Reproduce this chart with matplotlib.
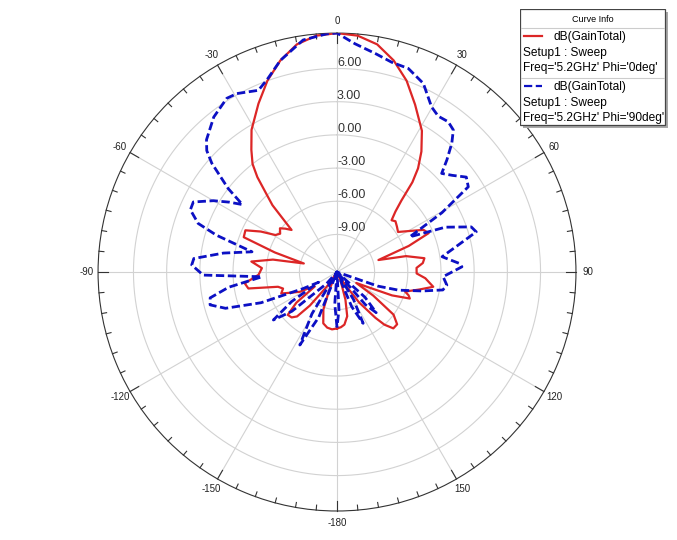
import numpy as np
import matplotlib
matplotlib.use("Agg")
import matplotlib.pyplot as plt
from matplotlib.patches import Rectangle

plt.rcParams["font.family"] = ["Liberation Sans", "DejaVu Sans"]

# ---------------------------------------------------------------------------
# data (theta in deg, gain in dB)
# ---------------------------------------------------------------------------
red_label = ["dB(GainTotal)", "Setup1 : Sweep", "Freq='5.2GHz' Phi='0deg'"]
red_theta = [-180, -175, -170, -165, -160, -157, -153, -150, -145, -141, -138,
             -135, -131, -127, -123, -120, -118, -114, -111, -107, -104,
             -100.5, -97, -92, -87, -83, -79, -75.5, -72.5, -69.5, -65.5,
             -62, -59, -56, -52.5, -50, -47.2, -44, -42, -40, -38, -35,
             -31, -25, -20, -15, -10, -5, 0, 5, 10, 15, 20, 25, 31, 35,
             38, 40, 42, 44, 46.5, 49, 52.8, 56.7, 60, 64, 67, 70, 73.8,
             77, 81, 84, 87, 91, 94, 98.7, 102, 106, 108, 110, 113, 116,
             119.5, 123, 127, 131, 135, 138, 140, 144, 148, 153, 158, 163,
             167, 172, 176, 180]
red_db = [-7.3, -7.2, -7.3, -7.6, -8.8, -10.5, -11.8, -12.2, -10.8, -8.5, -7.0,
          -6.6, -6.5, -7.8, -10.0, -9.6, -8.6, -7.8, -7.0, -7.3, -6.9,
          -4.25, -4.0, -5.3, -5.6, -4.6, -6.5, -9.3, -6.5, -3.4, -3.3,
          -4.6, -5.9, -6.2, -5.9, -6.3, -6.8, -4.0, -2.8, -1.2, 0.0, 1.1,
          2.6, 4.4, 6.0, 7.4, 8.5, 9.05, 9.2, 9.05, 8.5, 7.4, 6.0, 4.3, 2.5, 0.9,
          -0.5, -1.8, -3.7, -4.8, -5.6, -5.4, -5.6, -5.8, -5.0, -3.7, -3.4, -5.5, -8.5,
          -6.0, -4.4, -4.6, -5.2, -5.2, -4.4, -3.6, -4.8, -6.0, -5.6, -5.4, -7.0, -9.3,
          -10.4, -8.5, -6.0, -5.2, -5.2, -6.0, -7.0, -9.0, -11.2, -12.3, -11.5, -9.8,
          -8.3, -7.6, -7.4, -7.3]

blue_label = ["dB(GainTotal)", "Setup1 : Sweep", "Freq='5.2GHz' Phi='90deg'"]
blue_theta = [-180, -176, -172, -165, -158, -153, -149, -144, -138, -131, -127,
              -123, -119, -116, -112, -108, -104.5, -101.5, -98, -93.6, -91.3,
              -87.2, -84.6, -80.5, -76.6, -73, -70.7, -67, -64, -60, -57, -54.5,
              -52.5, -49, -47, -44.6, -38.5, -32.4, -29.3, -23.4, -20, -15, -8.3,
              -2.5, 0, 4.5, 10, 14.6, 19.3, 24.6, 29.8, 33, 36.5, 39.3, 41.7,
              44.4, 46.7, 50, 53.7, 57, 60.5, 64.2, 67.5, 71.4, 73.9, 77.5, 81.7,
              86, 87.6, 92.5, 96.8, 99.6, 102.5, 106.4, 109, 113, 128, 132, 136,
              139, 144, 149, 153, 157, 162, 172, 177, 180]
blue_db = [-7.4, -9.5, -12.4, -12.4, -8.0, -5.0, -8.0, -12.4, -11.0, -7.0, -5.2,
           -7.5, -10.5, -9.0, -5.0, -1.8, -0.55, -0.7, -2.5, -5.6, -0.3,
           0.75, 0.6, -2.0, -4.5, -1.0, 0.9, 2.0, 2.05, 0.5, -0.8, -1.9,
           0.0, 2.6, 3.7, 4.4, 5.5, 6.2, 6.1, 5.5, 6.1, 7.4, 8.8,
           9.15, 9.2, 8.3, 7.65, 7.2, 7.1, 6.35, 4.8, 4.4, 4.5, 4.2, 3.2,
           1.8, 0.6, 1.2, 2.1, 1.75, -1.5, -5.1, -1.8, 0.4, 0.7, -1.2, -2.8,
           -1.3, -1.1, -2.8, -2.4, -2.7, -4.5, -6.6, -8.5, -12.4, -12.4, -9.0, -7.3,
           -8.5, -12.4, -9.5, -7.2, -9.0, -12.4, -12.4, -9.0, -7.4]

ring_values = [-9, -6, -3, 0, 3, 6]
angle_ticks = [0, 30, 60, 90, 120, 150, 180, -150, -120, -90, -60, -30]
angle_labels = ["0", "30", "60", "90", "120", "150", "-180", "-150", "-120",
                "-90", "-60", "-30"]

RMIN, RMAX = -12.4, 9.2
RED = "#dc2626"
BLUE = "#0c10c4"
GRID = "#d2d2d2"

# ---------------------------------------------------------------------------
# plot
# ---------------------------------------------------------------------------
fig = plt.figure(figsize=(6.77, 5.40), dpi=100)
ax = fig.add_axes([0.1448, 0.0537, 0.706, 0.885], projection="polar")
ax.set_theta_zero_location("N")
ax.set_theta_direction(-1)
ax.set_ylim(RMIN, RMAX)
ax.grid(False)
ax.set_xticks([])
ax.set_yticks([])
ax.spines["polar"].set_color("#333333")
ax.spines["polar"].set_linewidth(0.8)

# rings and spokes
full = np.linspace(0, 2 * np.pi, 721)
for rv in ring_values:
    ax.plot(full, np.full_like(full, rv), color=GRID, lw=0.8, zorder=1)
for a in range(0, 360, 30):
    ax.plot([np.deg2rad(a)] * 2, [RMIN, RMAX], color=GRID, lw=0.8, zorder=1)

# tick marks on the outer circle (every 5 deg, longer every 30 deg)
for a in range(0, 360, 5):
    d = 0.9 if a % 30 == 0 else 0.45
    ax.plot([np.deg2rad(a)] * 2, [RMAX - d, RMAX], color="#333333", lw=0.8,
            zorder=2, clip_on=False)

for a, lab in zip(angle_ticks, angle_labels):
    ax.text(np.deg2rad(a), RMAX + 1.05, lab, ha="center", va="center",
            fontsize=7, color="#222222")
for rv in ring_values:
    ax.text(0, rv, f"{rv:.2f}", ha="left", va="bottom", fontsize=9,
            color="#333333", zorder=3)

ax.plot(np.deg2rad(red_theta), np.clip(red_db, RMIN, None), color=RED, lw=1.6,
        zorder=4)
ax.plot(np.deg2rad(blue_theta), np.clip(blue_db, RMIN, None), color=BLUE, lw=2.0,
        dashes=(3, 1.3), zorder=5)

# "Curve Info" box, drawn in pixel units
W, H = 677, 540
x0, y0, bw, bh = 520, 9, 145, 116
lax = fig.add_axes([x0 / W, 1 - (y0 + bh + 4) / H, (bw + 4) / W, (bh + 4) / H])
lax.set_xlim(0, bw + 4)
lax.set_ylim(bh + 4, 0)
lax.axis("off")
lax.add_patch(Rectangle((3, 3), bw, bh, facecolor="#a8a8a8", edgecolor="none"))
lax.add_patch(Rectangle((0, 0), bw, bh, facecolor="white", edgecolor="#444444",
                        lw=0.9))
lax.text(bw / 2, 10, "Curve Info", ha="center", va="center", fontsize=6.5)
lax.plot([1, bw - 1], [19, 19], color="#cccccc", lw=0.8)
lax.plot([1, bw - 1], [69, 69], color="#cccccc", lw=0.8)
for k, (lab, col, style) in enumerate([(red_label, RED, "-"), (blue_label, BLUE, "--")]):
    top = 20 + k * 50
    lax.plot([4, 22], [top + 7, top + 7], color=col, lw=1.6, ls=style)
    lax.text(33, top + 8, lab[0], ha="left", va="center", fontsize=8.6)
    lax.text(3, top + 24, lab[1], ha="left", va="center", fontsize=8.6)
    lax.text(3, top + 39, lab[2], ha="left", va="center", fontsize=8.6)

fig.savefig("out.png", dpi=100, facecolor="white")
